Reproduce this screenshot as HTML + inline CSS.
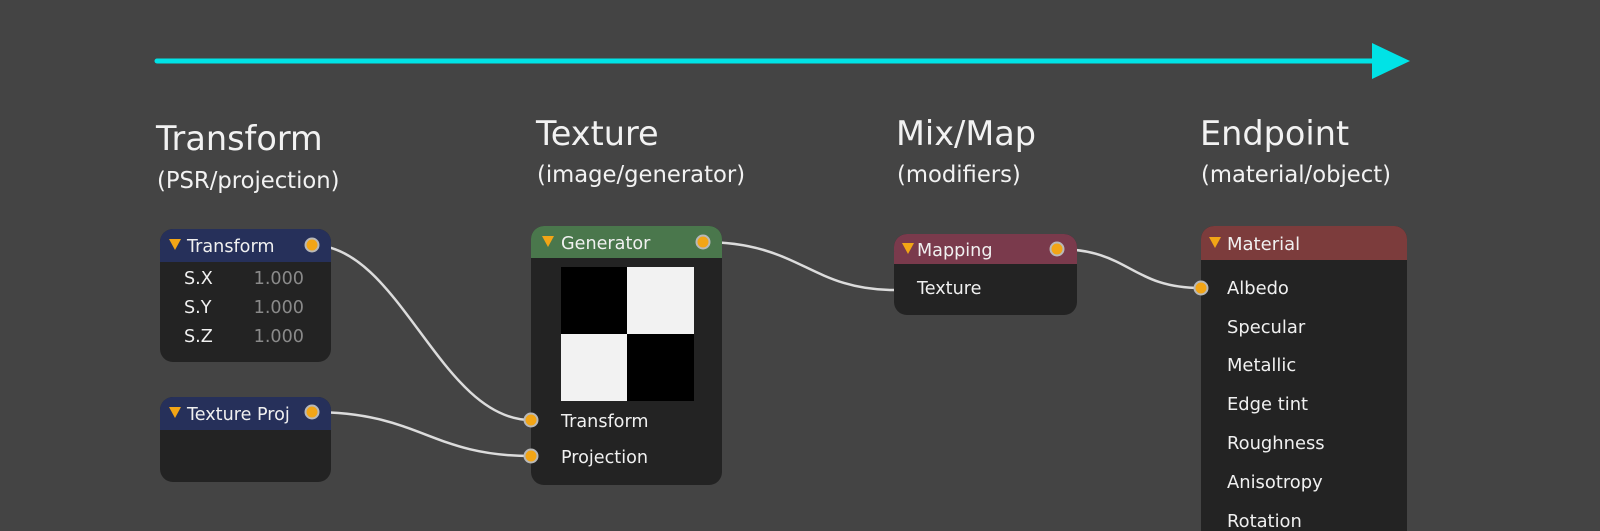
<!DOCTYPE html>
<html><head><meta charset="utf-8"><style>
html,body{margin:0;padding:0;background:#444444;}
svg{display:block;}
text{font-family:"DejaVu Sans","Liberation Sans",sans-serif;}
</style></head><body>
<svg width="1600" height="531" viewBox="0 0 1600 531" xmlns="http://www.w3.org/2000/svg">
<rect width="1600" height="531" fill="#444444"/>
<line x1="157" y1="61" x2="1378" y2="61" stroke="#00e3e6" stroke-width="5" stroke-linecap="round"/>
<polygon points="1372,43 1410,61 1372,79" fill="#00e3e6"/>
<g fill="#f2f2f2">
<text x="156" y="150" font-size="33.5">Transform</text>
<text x="157" y="188" font-size="22.7">(PSR/projection)</text>
<text x="536" y="145" font-size="33.5">Texture</text>
<text x="537" y="182" font-size="22.7">(image/generator)</text>
<text x="896" y="145" font-size="33.5">Mix/Map</text>
<text x="897" y="182" font-size="22.7">(modifiers)</text>
<text x="1200" y="145" font-size="33.5">Endpoint</text>
<text x="1201" y="182" font-size="22.7">(material/object)</text>
</g>
<g fill="none" stroke="#dcdcdc" stroke-width="2.5">
<path d="M312,245 C400,245 440,420 531,420"/>
<path d="M312,412 C420,412 430,456 531,456"/>
<path d="M703,242 C800,242 810,290 894,290"/>
<path d="M1057,249 C1130,249 1130,288 1201,288"/>
</g>
<rect x="160" y="229" width="171" height="133" rx="13" fill="#232323"/>
<rect x="160" y="229" width="171" height="33" rx="13" fill="#26305a"/>
<rect x="160" y="250" width="171" height="12" fill="#26305a"/>
<polygon points="169,239 181,239 175,250" fill="#f2a516"/>
<text x="187" y="252" font-size="17.6" fill="#f0f0f0">Transform</text>
<g font-size="17.6"><text x="184" y="284" fill="#f0f0f0">S.X</text><text x="304" y="284" fill="#8a8a8a" text-anchor="end">1.000</text>
<text x="184" y="313" fill="#f0f0f0">S.Y</text><text x="304" y="313" fill="#8a8a8a" text-anchor="end">1.000</text>
<text x="184" y="342" fill="#f0f0f0">S.Z</text><text x="304" y="342" fill="#8a8a8a" text-anchor="end">1.000</text></g>
<rect x="160" y="397" width="171" height="85" rx="13" fill="#232323"/>
<rect x="160" y="397" width="171" height="33" rx="13" fill="#26305a"/>
<rect x="160" y="415" width="171" height="15" fill="#26305a"/>
<polygon points="169,407 181,407 175,418" fill="#f2a516"/>
<text x="187" y="420" font-size="17.6" fill="#f0f0f0">Texture Proj</text>
<rect x="531" y="226" width="191" height="259" rx="13" fill="#232323"/>
<rect x="531" y="226" width="191" height="32" rx="13" fill="#4a774c"/>
<rect x="531" y="245" width="191" height="13" fill="#4a774c"/>
<polygon points="542,236 554,236 548,247" fill="#f2a516"/>
<text x="561" y="249" font-size="17.6" fill="#f0f0f0">Generator</text>
<rect x="561" y="267" width="133" height="134" fill="#000"/>
<rect x="627" y="267" width="67" height="67" fill="#f2f2f2"/>
<rect x="561" y="334" width="66" height="67" fill="#f2f2f2"/>
<text x="561" y="427" font-size="17.6" fill="#f0f0f0">Transform</text>
<text x="561" y="463" font-size="17.6" fill="#f0f0f0">Projection</text>
<rect x="894" y="234" width="183" height="81" rx="13" fill="#232323"/>
<rect x="894" y="234" width="183" height="30" rx="13" fill="#7a3a4c"/>
<rect x="894" y="252" width="183" height="12" fill="#7a3a4c"/>
<polygon points="902,243 914,243 908,254" fill="#f2a516"/>
<text x="917" y="256" font-size="17.6" fill="#f0f0f0">Mapping</text>
<text x="917" y="294" font-size="17.6" fill="#f0f0f0">Texture</text>
<rect x="1201" y="226" width="206" height="320" rx="13" fill="#232323"/>
<rect x="1201" y="226" width="206" height="34" rx="13" fill="#7c3c3c"/>
<rect x="1201" y="246" width="206" height="14" fill="#7c3c3c"/>
<polygon points="1209,237 1221,237 1215,248" fill="#f2a516"/>
<text x="1227" y="250" font-size="18" fill="#f0f0f0">Material</text>
<g font-size="17.9" fill="#f0f0f0">
<text x="1227" y="294">Albedo</text>
<text x="1227" y="333">Specular</text>
<text x="1227" y="371">Metallic</text>
<text x="1227" y="410">Edge tint</text>
<text x="1227" y="449">Roughness</text>
<text x="1227" y="488">Anisotropy</text>
<text x="1227" y="527">Rotation</text>
</g>
<g fill="#f2a516" stroke="#b8b8b8" stroke-width="2">
<circle cx="312" cy="245" r="6.5"/>
<circle cx="312" cy="412" r="6.5"/>
<circle cx="531" cy="420" r="6.5"/>
<circle cx="531" cy="456" r="6.5"/>
<circle cx="703" cy="242" r="6.5"/>
<circle cx="1057" cy="249" r="6.5"/>
<circle cx="1201" cy="288" r="6.5"/>
</g>
</svg>
</body></html>
